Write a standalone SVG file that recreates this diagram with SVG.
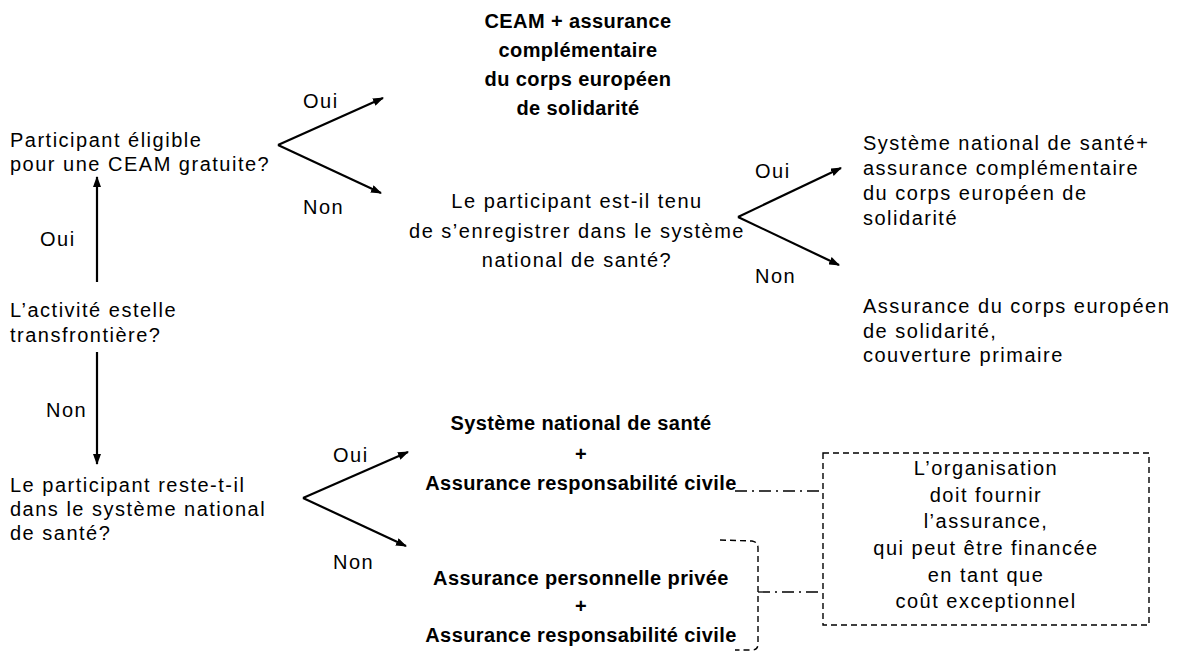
<svg xmlns="http://www.w3.org/2000/svg" width="1184" height="657" viewBox="0 0 1184 657">
<defs>
<style>
text{font-family:"Liberation Sans",Arial,sans-serif;fill:#000}
.r{font-size:20px;letter-spacing:1.5px}
.b{font-size:20px;font-weight:bold;letter-spacing:0.4px}
.c{text-anchor:middle}
.arr{stroke:#000;stroke-width:2.2;fill:none;marker-end:url(#ah)}
.dd{stroke:#000;stroke-width:1.3;fill:none;stroke-dasharray:12 5 2 5}
.dash{stroke:#000;stroke-width:1.4;fill:none;stroke-dasharray:6 4}
</style>
<marker id="ah" markerUnits="userSpaceOnUse" markerWidth="11" markerHeight="8" refX="10" refY="4" orient="auto">
<path d="M0,0 L11,4 L0,8 z" fill="#000"/>
</marker>
</defs>
<rect width="1184" height="657" fill="#fff"/>
<g id="connectors">
<line class="arr" x1="97" y1="282" x2="97" y2="177"/>
<line class="arr" x1="97" y1="352" x2="97" y2="464"/>
<line class="arr" x1="278" y1="145" x2="383" y2="98"/>
<line class="arr" x1="278" y1="145" x2="381" y2="193"/>
<line class="arr" x1="738" y1="217" x2="841" y2="168"/>
<line class="arr" x1="738" y1="217" x2="839" y2="265"/>
<line class="arr" x1="303" y1="498" x2="408" y2="452"/>
<line class="arr" x1="303" y1="498" x2="406" y2="546"/>
<line class="dd" x1="735" y1="491" x2="823" y2="491"/>
<path class="dash" d="M720,540 L752,541 Q758,542 758,548 L758,644 Q758,650 752,650 L735,650" stroke-dasharray="10 6"/>
<line class="dd" x1="758" y1="592" x2="823" y2="592"/>
<text class="r" x="303" y="108">Oui</text>
<text class="r" x="303" y="214">Non</text>
<text class="r" x="40" y="246">Oui</text>
<text class="r" x="46" y="417">Non</text>
<text class="r" x="755" y="178">Oui</text>
<text class="r" x="755" y="283">Non</text>
<text class="r" x="333" y="462">Oui</text>
<text class="r" x="333" y="569">Non</text>
</g>
<g id="n-ceam">
<text class="b c" x="578" y="28">CEAM + assurance</text>
<text class="b c" x="578" y="57">complémentaire</text>
<text class="b c" x="578" y="86">du corps européen</text>
<text class="b c" x="578" y="115">de solidarité</text>
</g>
<g id="n-eligible">
<text class="r" x="10" y="147">Participant éligible</text>
<text class="r" x="10" y="171">pour une CEAM gratuite?</text>
</g>
<g id="n-transfrontiere">
<text class="r" x="10" y="317">L’activité estelle</text>
<text class="r" x="10" y="342">transfrontière?</text>
</g>
<g id="n-reste">
<text class="r" x="10" y="492">Le participant reste-t-il</text>
<text class="r" x="10" y="516">dans le système national</text>
<text class="r" x="10" y="540">de santé?</text>
</g>
<g id="n-tenu">
<text class="r c" x="577" y="208">Le participant est-il tenu</text>
<text class="r c" x="577" y="238">de s’enregistrer dans le système</text>
<text class="r c" x="577" y="267">national de santé?</text>
</g>
<g id="n-sns-compl">
<text class="r" x="863" y="150">Système national de santé+</text>
<text class="r" x="863" y="175">assurance complémentaire</text>
<text class="r" x="863" y="200">du corps européen de</text>
<text class="r" x="863" y="225">solidarité</text>
</g>
<g id="n-primaire">
<text class="r" x="863" y="313">Assurance du corps européen</text>
<text class="r" x="863" y="338">de solidarité,</text>
<text class="r" x="863" y="362">couverture primaire</text>
</g>
<g id="n-sns-rc">
<text class="b c" x="581" y="430">Système national de santé</text>
<text class="b c" x="581" y="461">+</text>
<text class="b c" x="581" y="490">Assurance responsabilité civile</text>
</g>
<g id="n-privee">
<text class="b c" x="581" y="585">Assurance personnelle privée</text>
<text class="b c" x="581" y="613">+</text>
<text class="b c" x="581" y="642">Assurance responsabilité civile</text>
</g>
<g id="n-organisation">
<rect class="dash" x="823" y="453" width="326" height="172"/>
<text class="r c" x="986" y="475">L’organisation</text>
<text class="r c" x="986" y="502">doit fournir</text>
<text class="r c" x="986" y="528">l’assurance,</text>
<text class="r c" x="986" y="555">qui peut être financée</text>
<text class="r c" x="986" y="582">en tant que</text>
<text class="r c" x="986" y="608">coût exceptionnel</text>
</g>
</svg>
